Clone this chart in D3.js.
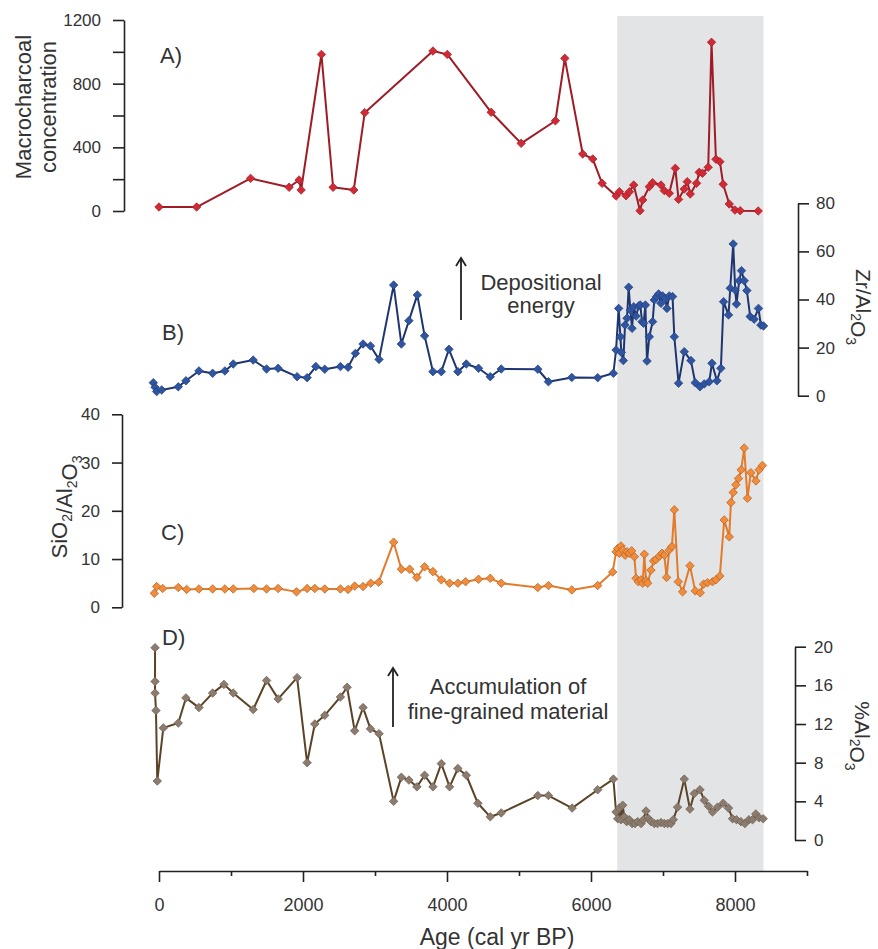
<!DOCTYPE html>
<html>
<head>
<meta charset="utf-8">
<script src="https://cdn.jsdelivr.net/npm/d3@7"></script>
<style>
  body { margin: 0; background: #fff; }
  svg { font-family: "Liberation Sans", Arial, sans-serif; }
</style>
</head>
<body>
<div id="chart"></div>
<script>
// A) macrocharcoal
const ageA = [0, 523, 1272, 1807, 1946, 1974, 2256, 2418, 2705, 2857, 3805, 4004, 4614, 5030, 5506, 5636, 5885, 6024, 6154, 6348, 6394, 6487, 6533, 6593, 6681, 6718, 6810, 6856, 6972, 7018, 7087, 7171, 7216, 7295, 7337, 7379, 7466, 7503, 7549, 7628, 7674, 7735, 7790, 7836, 7920, 7999, 8072, 8322]
const charcoal = [25, 25, 205, 149, 195, 132, 984, 149, 132, 618, 1005, 984, 620, 425, 567, 959, 358, 327, 174, 94, 121, 96, 121, 163, 2, 69, 153, 178, 163, 128, 111, 268, 73, 138, 184, 107, 174, 243, 237, 275, 1060, 325, 310, 168, 44, 6, 2, 0]

// B) Zr/Al2O3
const ageB = [-79, -55, -32, 37, 268, 374, 555, 745, 915, 1031, 1308, 1494, 1655, 1918, 2057, 2178, 2302, 2520, 2626, 2728, 2834, 2937, 3056, 3259, 3366, 3471, 3588, 3689, 3805, 3921, 4027, 4151, 4268, 4438, 4601, 4753, 5261, 5409, 5733, 6093, 6311, 6348, 6384, 6408, 6422, 6449, 6473, 6500, 6523, 6547, 6570, 6593, 6626, 6662, 6685, 6709, 6731, 6755, 6778, 6810, 6856, 6879, 6911, 6939, 6972, 6994, 7032, 7055, 7087, 7133, 7157, 7216, 7295, 7388, 7448, 7513, 7573, 7642, 7680, 7749, 7804, 7841, 7910, 7934, 7975, 8003, 8021, 8058, 8090, 8128, 8165, 8211, 8266, 8326, 8359, 8396]
const zrAl = [5.4, 3.5, 1.7, 2.4, 3.7, 6.2, 10.3, 9.3, 10.3, 13.2, 14.8, 11.1, 11.4, 7.9, 7.5, 12.1, 11.0, 12.1, 11.8, 17.6, 21.5, 20.7, 15.1, 46.0, 21.5, 31.2, 41.9, 24.9, 10.0, 10.0, 19.3, 10.0, 13.2, 11.4, 7.9, 11.1, 11.0, 5.8, 7.6, 7.5, 9.3, 19.0, 36.3, 24.5, 18.0, 14.6, 29.4, 32.2, 45.1, 35.6, 28.0, 37.0, 33.1, 37.3, 37.7, 30.8, 30.1, 37.7, 14.4, 24.5, 30.8, 39.8, 41.2, 42.3, 38.4, 41.5, 40.5, 36.3, 41.5, 41.2, 24.5, 5.2, 18.3, 14.6, 5.4, 3.7, 4.9, 5.8, 13.5, 6.2, 11.4, 39.1, 33.6, 44.7, 63.1, 43.9, 38.1, 47.8, 52.0, 47.8, 43.7, 32.9, 31.8, 36.3, 29.4, 29.0]

// C) SiO2/Al2O3
const ageC = [-65, -32, 51, 268, 384, 555, 745, 915, 1031, 1318, 1494, 1655, 1910, 2057, 2164, 2302, 2520, 2626, 2718, 2834, 2940, 3051, 3259, 3366, 3481, 3582, 3689, 3805, 3921, 4036, 4151, 4258, 4438, 4601, 4753, 5261, 5409, 5733, 6093, 6301, 6348, 6371, 6394, 6417, 6440, 6473, 6500, 6532, 6565, 6602, 6626, 6657, 6695, 6718, 6741, 6764, 6787, 6833, 6870, 6903, 6949, 6986, 7018, 7050, 7087, 7124, 7157, 7212, 7272, 7374, 7448, 7517, 7563, 7618, 7688, 7735, 7790, 7850, 7920, 7943, 7975, 8012, 8049, 8086, 8128, 8173, 8220, 8290, 8335, 8381]
const siAl = [2.9, 4.3, 3.9, 4.1, 3.7, 3.8, 3.8, 3.8, 3.8, 3.9, 3.8, 3.9, 3.2, 3.9, 3.9, 3.8, 3.8, 3.7, 4.4, 4.3, 5.0, 5.2, 13.5, 7.9, 7.9, 6.2, 8.4, 7.4, 5.7, 5.0, 5.0, 5.3, 5.8, 6.0, 5.0, 4.1, 4.5, 3.6, 4.5, 7.3, 11.5, 12.2, 11.2, 12.7, 11.9, 10.8, 11.5, 11.2, 11.7, 10.5, 6.0, 5.3, 5.7, 5.0, 11.0, 5.5, 5.0, 7.7, 9.6, 9.9, 10.6, 11.2, 10.8, 6.2, 11.9, 12.6, 20.2, 5.3, 3.2, 8.6, 3.4, 3.0, 4.8, 5.1, 5.3, 5.7, 6.5, 18.1, 14.6, 21.7, 23.8, 25.4, 26.7, 28.5, 33.0, 22.6, 27.9, 26.2, 28.5, 29.4]

// D) %Al2O3
const ageD = [-55, -55, -55, -42, -24, 60, 268, 374, 555, 745, 902, 1031, 1308, 1494, 1655, 1918, 2057, 2164, 2302, 2520, 2612, 2718, 2834, 2937, 3056, 3259, 3366, 3471, 3582, 3689, 3805, 3921, 4036, 4151, 4268, 4429, 4601, 4753, 5261, 5409, 5738, 6093, 6311, 6348, 6371, 6394, 6417, 6440, 6463, 6496, 6532, 6570, 6611, 6648, 6695, 6727, 6764, 6801, 6833, 6879, 6925, 6972, 7018, 7064, 7110, 7143, 7202, 7295, 7374, 7434, 7513, 7573, 7632, 7688, 7757, 7836, 7910, 7966, 8021, 8082, 8137, 8193, 8243, 8289, 8335, 8391]
const al2o3 = [19.9, 16.4, 15.2, 13.4, 6.1, 11.6, 12.1, 14.7, 13.7, 15.2, 16.1, 15.2, 13.5, 16.5, 14.6, 16.8, 8.0, 12.0, 12.9, 14.8, 15.8, 11.3, 13.7, 11.5, 11.0, 4.0, 6.5, 6.2, 5.5, 6.7, 5.5, 7.9, 5.5, 7.4, 6.7, 3.8, 2.4, 2.8, 4.6, 4.6, 3.3, 5.2, 6.3, 2.9, 2.2, 3.3, 2.1, 3.6, 2.4, 1.9, 2.1, 1.7, 1.7, 1.9, 1.7, 2.1, 3.0, 2.2, 1.9, 1.7, 1.7, 1.8, 1.7, 1.7, 1.7, 2.1, 3.4, 6.3, 3.2, 4.8, 5.2, 4.1, 3.5, 2.9, 3.4, 3.8, 3.3, 2.2, 2.1, 1.9, 1.7, 2.1, 2.1, 2.7, 2.3, 2.2]

const band = [6365, 8395]
const xTicks = d3.range(0, 9001, 1000)

const width = 878, height = 949

const svg = d3.select("#chart").append("svg")
	.attr("width", width)
	.attr("height", height)

const x = d3.scaleLinear().domain([0, 9000]).range([159, 807])
const yA = d3.scaleLinear().domain([0, 1200]).range([211, 20])
const yB = d3.scaleLinear().domain([0, 80]).range([395.7, 203.3])
const yC = d3.scaleLinear().domain([0, 40]).range([607.3, 414.3])
const yD = d3.scaleLinear().domain([0, 20]).range([840, 646.7])

// shaded interval
svg.append("rect")
	.attr("x", x(band[0]))
	.attr("width", x(band[1]) - x(band[0]))
	.attr("y", 16)
	.attr("height", 871 - 16)
	.attr("fill", "#e3e4e6")

function series(ages, values, y, lineColor, fill, edge) {
	const pts = ages.map((a, i) => [a, values[i]])
	const g = svg.append("g")
	g.append("path")
		.datum(pts)
		.attr("fill", "none")
		.attr("stroke", lineColor)
		.attr("stroke-width", 2)
		.attr("stroke-linejoin", "round")
		.attr("d", d3.line().x(d => x(d[0])).y(d => y(d[1])))
	g.selectAll("path.pt")
		.data(pts)
		.join("path")
		.attr("class", "pt")
		.attr("d", d3.symbol(d3.symbolSquare, 36))
		.attr("transform", d => `translate(${x(d[0])},${y(d[1])}) rotate(45)`)
		.attr("fill", fill)
		.attr("stroke", edge)
		.attr("stroke-width", 0.7)
}

series(ageA, charcoal, yA, "#9e1c26", "#d02a35", "#a51f29")
series(ageB, zrAl, yB, "#1e3670", "#2f55a0", "#223f80")
series(ageC, siAl, yC, "#e27b2c", "#f08c3e", "#b8621e")
series(ageD, al2o3, yD, "#5a4326", "#8c7c70", "#6f6050")

function styleAxis(g) {
	g.selectAll("path.domain").attr("stroke", "#222").attr("stroke-width", 1.6)
	g.selectAll(".tick line").attr("stroke", "#222").attr("stroke-width", 1.6)
	g.selectAll("text").attr("fill", "#333").style("font-size", "17px")
}

// left axis A
svg.append("g")
	.attr("transform", "translate(124,0)")
	.call(d3.axisLeft(yA).tickValues(d3.range(0, 1201, 200)).tickSize(11).tickSizeOuter(0).tickPadding(12)
		.tickFormat(d => d % 400 === 0 ? d : ""))
	.call(styleAxis)

// right axis B
svg.append("g")
	.attr("transform", "translate(798,0)")
	.call(d3.axisRight(yB).tickValues(d3.range(0, 81, 20)).tickSize(11).tickSizeOuter(0).tickPadding(7))
	.call(styleAxis)

// left axis C
svg.append("g")
	.attr("transform", "translate(122,0)")
	.call(d3.axisLeft(yC).tickValues(d3.range(0, 41, 10)).tickSize(10).tickSizeOuter(0).tickPadding(12))
	.call(styleAxis)

// right axis D
svg.append("g")
	.attr("transform", "translate(795,0)")
	.call(d3.axisRight(yD).tickValues(d3.range(0, 21, 4)).tickSize(11).tickSizeOuter(0).tickPadding(8))
	.call(styleAxis)

// bottom axis
const xg = svg.append("g")
	.attr("transform", "translate(0,871)")
	.call(d3.axisBottom(x).tickValues(xTicks).tickSize(11).tickSizeOuter(0).tickPadding(16)
		.tickFormat(d => d % 2000 === 0 && d < 9000 ? d : ""))
	.call(styleAxis)
xg.selectAll(".tick line").attr("y2", d => d % 2000 === 0 ? 11 : 5)
xg.selectAll("text").style("font-size", "18px")

svg.append("text")
	.attr("x", 497).attr("y", 945)
	.attr("text-anchor", "middle")
	.attr("fill", "#333")
	.style("font-size", "23px")
	.text("Age (cal yr BP)")

// axis titles
const titleA = svg.append("text")
	.attr("transform", "translate(0,107) rotate(-90)")
	.attr("text-anchor", "middle")
	.attr("fill", "#333")
	.style("font-size", "22px")
titleA.append("tspan").attr("x", 0).attr("y", 31).text("Macrocharcoal")
titleA.append("tspan").attr("x", 0).attr("y", 56).text("concentration")

function chemTitle(el, parts) {
	parts.forEach(([t, sub]) => {
		if (sub) {
			el.append("tspan").attr("dy", 5).style("font-size", "14px").text(t)
			el.append("tspan").attr("dy", -5).text("")
		} else {
			el.append("tspan").text(t)
		}
	})
}

const titleB = svg.append("text")
	.attr("transform", "translate(856,307) rotate(90)")
	.attr("text-anchor", "middle")
	.attr("fill", "#333")
	.style("font-size", "21px")
chemTitle(titleB, [["Zr/Al"], ["2", true], ["O"], ["3", true]])

const titleC = svg.append("text")
	.attr("transform", "translate(67,507) rotate(-90)")
	.attr("text-anchor", "middle")
	.attr("fill", "#333")
	.style("font-size", "22px")
chemTitle(titleC, [["SiO"], ["2", true], ["/Al"], ["2", true], ["O"], ["3", true]])

const titleD = svg.append("text")
	.attr("transform", "translate(855,736) rotate(90)")
	.attr("text-anchor", "middle")
	.attr("fill", "#333")
	.style("font-size", "21px")
chemTitle(titleD, [["%Al"], ["2", true], ["O"], ["3", true]])

// panel letters
const panelLabels = [["A)", 160, 63], ["B)", 162, 340], ["C)", 161, 540], ["D)", 162, 645]]
svg.selectAll("text.panel")
	.data(panelLabels)
	.join("text")
	.attr("class", "panel")
	.attr("x", d => d[1]).attr("y", d => d[2])
	.attr("fill", "#333")
	.style("font-size", "22px")
	.text(d => d[0])

// annotations
function arrow(xp, y0, y1) {
	svg.append("line")
		.attr("x1", xp).attr("x2", xp).attr("y1", y1).attr("y2", y0 + 2)
		.attr("stroke", "#222").attr("stroke-width", 1.8)
	svg.append("path")
		.attr("d", `M${xp - 5},${y0 + 8} L${xp},${y0} L${xp + 5},${y0 + 8}`)
		.attr("fill", "none").attr("stroke", "#222").attr("stroke-width", 1.8)
}
arrow(461, 258, 320)
arrow(393, 668, 727)

function note(cx, lines, y0, dy) {
	const t = svg.append("text")
		.attr("text-anchor", "middle")
		.attr("fill", "#333")
		.style("font-size", "22px")
	lines.forEach((s, i) => t.append("tspan").attr("x", cx).attr("y", y0 + i * dy).text(s))
}
note(541, ["Depositional", "energy"], 290, 23)
note(508, ["Accumulation of", "fine-grained material"], 694, 25)
</script>
</body>
</html>
